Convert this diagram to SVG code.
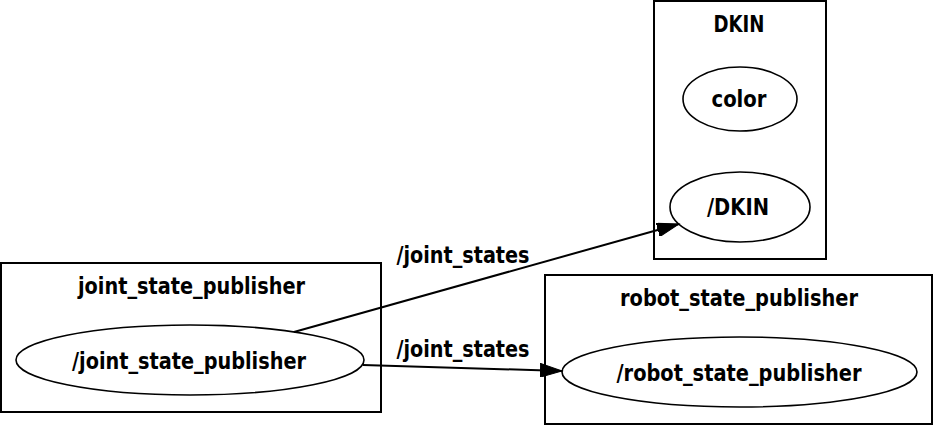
<svg xmlns="http://www.w3.org/2000/svg" width="935" height="426" viewBox="0 0 935 426">
<style>
text{font-family:"DejaVu Sans",sans-serif;font-weight:bold;font-size:23px;text-anchor:middle;fill:#000}
.c{fill:none;stroke:#000;stroke-width:2}
.n{fill:none;stroke:#000;stroke-width:1.6}
.e{fill:none;stroke:#000;stroke-width:2}
</style>
<defs>
<marker id="ah" markerWidth="24" markerHeight="14" refX="22" refY="7" orient="auto" markerUnits="userSpaceOnUse">
<path d="M0,0 L22,7 L0,14 Z" fill="#000" stroke="#000"/>
</marker>
</defs>
<g id="cluster_DKIN">
<rect class="c" x="654" y="1" width="172" height="258"/>
<text x="739" y="32" textLength="51" lengthAdjust="spacingAndGlyphs">DKIN</text>
</g>
<g id="cluster_joint_state_publisher">
<rect class="c" x="1" y="263" width="380" height="149"/>
<text x="191.5" y="294" textLength="227" lengthAdjust="spacingAndGlyphs">joint_state_publisher</text>
</g>
<g id="cluster_robot_state_publisher">
<rect class="c" x="545" y="275" width="387" height="149"/>
<text x="739" y="306" textLength="238" lengthAdjust="spacingAndGlyphs">robot_state_publisher</text>
</g>
<g id="node_color">
<ellipse class="n" cx="740" cy="99" rx="57" ry="32"/>
<text x="739" y="107" textLength="55" lengthAdjust="spacingAndGlyphs">color</text>
</g>
<g id="node_DKIN">
<ellipse class="n" cx="740" cy="207" rx="70" ry="35"/>
<text x="738" y="215" textLength="62" lengthAdjust="spacingAndGlyphs">/DKIN</text>
</g>
<g id="node_joint_state_publisher">
<ellipse class="n" cx="190" cy="360" rx="174" ry="35"/>
<text x="189" y="369" textLength="234" lengthAdjust="spacingAndGlyphs">/joint_state_publisher</text>
</g>
<g id="node_robot_state_publisher">
<ellipse class="n" cx="739.5" cy="372" rx="177.5" ry="35"/>
<text x="739" y="381" textLength="245" lengthAdjust="spacingAndGlyphs">/robot_state_publisher</text>
</g>
<g id="edges">
<path class="e" d="M294,332 L679,224" marker-end="url(#ah)"/>
<text x="463" y="263" textLength="133" lengthAdjust="spacingAndGlyphs">/joint_states</text>
<path class="e" d="M363,365 L562,371" marker-end="url(#ah)"/>
<text x="463" y="357" textLength="133" lengthAdjust="spacingAndGlyphs">/joint_states</text>
</g>
</svg>
